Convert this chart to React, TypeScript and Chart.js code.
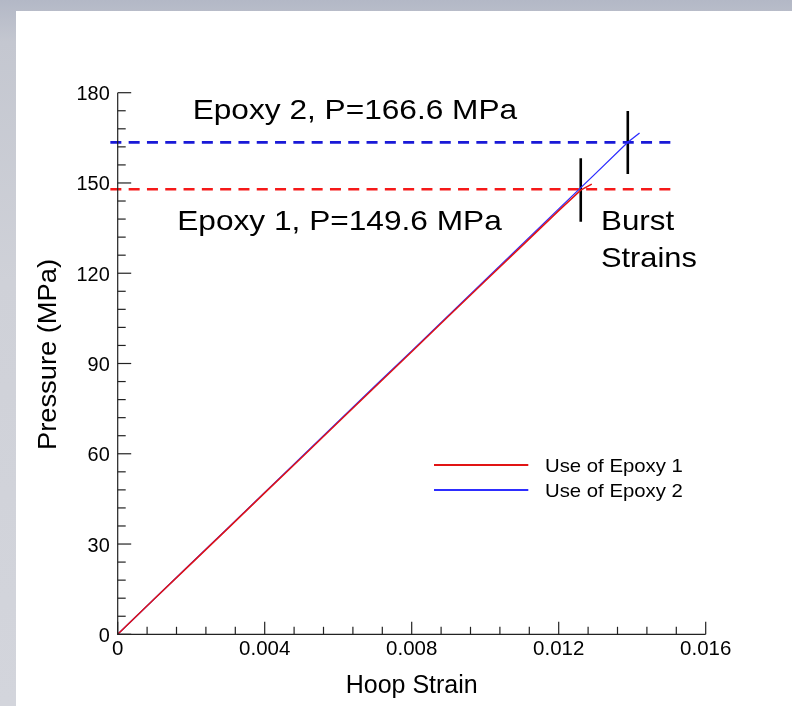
import React, { useEffect, useRef } from 'react';
import { Chart, registerables } from 'chart.js';

Chart.register(...registerables);

// ---- data ----
const seriesLabels = ['Use of Epoxy 1', 'Use of Epoxy 2'];

const strainEpoxy1 = [0, 0.001, 0.002, 0.003, 0.004, 0.005, 0.006, 0.007, 0.008, 0.009, 0.010, 0.011, 0.012, 0.0126, 0.0129];
const pressureEpoxy1 = [0, 11.8, 23.5, 35.2, 47.0, 58.7, 70.5, 82.2, 93.9, 105.7, 117.4, 129.1, 140.8, 147.6, 149.6];

const strainEpoxy2 = [0, 0.001, 0.002, 0.003, 0.004, 0.005, 0.006, 0.007, 0.008, 0.009, 0.010, 0.011, 0.012, 0.013, 0.01388, 0.0142];
const pressureEpoxy2 = [0, 11.8, 23.6, 35.3, 47.1, 58.9, 70.7, 82.5, 94.2, 106.0, 117.8, 129.6, 141.4, 153.1, 163.5, 166.6];

const burstLabels = ['Epoxy 1, P=149.6 MPa', 'Epoxy 2, P=166.6 MPa'];
const burstNote = ['Burst', 'Strains'];
const levelStrain = [-0.0002, 0.01514];
const levelEpoxy1 = [147.9, 147.9];
const levelEpoxy2 = [163.5, 163.5];

const markerStrainEpoxy1 = [0.0126, 0.0126];
const markerPressureEpoxy1 = [137.1, 158.2];
const markerStrainEpoxy2 = [0.01388, 0.01388];
const markerPressureEpoxy2 = [153.0, 173.9];

const xTickLabels = ['0', '0.004', '0.008', '0.012', '0.016'];
const yTickLabels = ['0', '30', '60', '90', '120', '150', '180'];
const xTitle = 'Hoop Strain';
const yTitle = 'Pressure (MPa)';

const pts = (xs: number[], ys: number[]) => xs.map((x, i) => ({ x, y: ys[i] }));

const FONT = '"Liberation Sans", Arial, Helvetica, sans-serif';

function drawText(
  ctx: CanvasRenderingContext2D,
  s: string,
  x: number,
  y: number,
  size: number,
  align: CanvasTextAlign,
  sx = 1,
  rot = 0
) {
  ctx.save();
  ctx.translate(x, y);
  if (rot) ctx.rotate(rot);
  ctx.scale(sx, 1);
  ctx.font = `${size}px ${FONT}`;
  ctx.textAlign = align;
  ctx.textBaseline = 'alphabetic';
  ctx.fillStyle = '#000';
  ctx.fillText(s, 0, 0);
  ctx.restore();
}

const decorPlugin = {
  id: 'decor',
  afterDraw(chart: any) {
    const ctx: CanvasRenderingContext2D = chart.ctx;
    const { left, right, top, bottom } = chart.chartArea;
    const xs = chart.scales.x;
    const ys = chart.scales.y;

    // axes
    ctx.save();
    ctx.strokeStyle = '#222';
    ctx.lineWidth = 1.2;
    ctx.beginPath();
    ctx.moveTo(left, top);
    ctx.lineTo(left, bottom);
    ctx.lineTo(right, bottom);
    ctx.stroke();

    // y ticks (inside)
    ys.ticks.forEach((t: any) => {
      const v = t.value;
      const p = ys.getPixelForValue(v);
      const idx = Math.round(v / 6);
      const major = idx % 5 === 0;
      ctx.beginPath();
      ctx.moveTo(left, p);
      ctx.lineTo(left + (major ? 13.5 : 8), p);
      ctx.stroke();
      if (major) {
        drawText(ctx, yTickLabels[idx / 5], left - 8, p + 7.5, 19.5, 'right', 1.02);
      }
    });

    // x ticks (inside)
    xs.ticks.forEach((t: any) => {
      const v = t.value;
      const p = xs.getPixelForValue(v);
      const idx = Math.round(v / 0.0008);
      const major = idx % 5 === 0;
      ctx.beginPath();
      ctx.moveTo(p, bottom);
      ctx.lineTo(p, bottom - (major ? 12.5 : 7.5));
      ctx.stroke();
      if (major) {
        drawText(ctx, xTickLabels[idx / 5], p, bottom + 21, 19.5, 'center', 1.05);
      }
    });
    ctx.restore();

    // axis titles
    drawText(ctx, xTitle, (left + right) / 2, bottom + 59, 25, 'center', 1.0);
    drawText(ctx, yTitle, left - 62, (top + bottom) / 2 - 9, 26, 'center', 1.05, -Math.PI / 2);

    // annotations
    drawText(ctx, burstLabels[1], xs.getPixelForValue(0.00204), ys.getPixelForValue(171.2), 28, 'left', 1.13);
    drawText(ctx, burstLabels[0], xs.getPixelForValue(0.00162), ys.getPixelForValue(134.4), 28, 'left', 1.13);
    drawText(ctx, burstNote[0], xs.getPixelForValue(0.01315), ys.getPixelForValue(134.4), 28, 'left', 1.12);
    drawText(ctx, burstNote[1], xs.getPixelForValue(0.01315), ys.getPixelForValue(122.2), 28, 'left', 1.1);

    // legend
    const ds = chart.data.datasets;
    [0, 1].forEach((i) => {
      const y = top + 372.3 + i * 25;
      ctx.save();
      ctx.strokeStyle = ds[i].borderColor;
      ctx.lineWidth = 2;
      ctx.beginPath();
      ctx.moveTo(left + 316.3, y);
      ctx.lineTo(left + 410.6, y);
      ctx.stroke();
      ctx.restore();
      drawText(ctx, ds[i].label, left + 427.3, y + 6.7, 19, 'left', 1.07);
    });
  },
};

export default function App() {
  const ref = useRef<HTMLCanvasElement | null>(null);

  useEffect(() => {
    const canvas = ref.current;
    if (!canvas) return;
    const chart = new Chart(canvas, {
      type: 'line',
      data: {
        datasets: [
          {
            label: seriesLabels[0],
            data: pts(strainEpoxy1, pressureEpoxy1),
            borderColor: 'rgb(225,20,20)',
            borderWidth: 1.5,
            pointRadius: 0,
            tension: 0,
          },
          {
            label: seriesLabels[1],
            data: pts(strainEpoxy2, pressureEpoxy2),
            borderColor: 'rgb(45,45,255)',
            borderWidth: 1.3,
            pointRadius: 0,
            tension: 0,
          },
          {
            label: 'level1',
            data: pts(levelStrain, levelEpoxy1),
            borderColor: 'rgb(245,25,25)',
            borderWidth: 2.6,
            borderDash: [11, 7.3],
            pointRadius: 0,
            clip: false as any,
          },
          {
            label: 'level2',
            data: pts(levelStrain, levelEpoxy2),
            borderColor: 'rgb(25,25,215)',
            borderWidth: 2.6,
            borderDash: [11, 7.3],
            pointRadius: 0,
            clip: false as any,
          },
          {
            label: 'burst1',
            data: pts(markerStrainEpoxy1, markerPressureEpoxy1),
            borderColor: '#000',
            borderWidth: 2.6,
            pointRadius: 0,
          },
          {
            label: 'burst2',
            data: pts(markerStrainEpoxy2, markerPressureEpoxy2),
            borderColor: '#000',
            borderWidth: 2.6,
            pointRadius: 0,
          },
        ],
      },
      options: {
        animation: false,
        responsive: false,
        devicePixelRatio: 1,
        parsing: true,
        layout: { padding: { left: 101.7, right: 86.3, top: 81.7, bottom: 71.7 } },
        plugins: { legend: { display: false }, tooltip: { enabled: false } },
        scales: {
          x: {
            type: 'linear',
            min: 0,
            max: 0.016,
            ticks: { display: false, stepSize: 0.0008 },
            grid: { display: false, drawTicks: false },
            border: { display: false },
          },
          y: {
            type: 'linear',
            min: 0,
            max: 180,
            ticks: { display: false, stepSize: 6 },
            grid: { display: false, drawTicks: false },
            border: { display: false },
          },
        },
      },
      plugins: [decorPlugin],
    });
    return () => chart.destroy();
  }, []);

  return (
    <div
      style={{
        position: 'fixed',
        left: 0,
        top: 0,
        width: 792,
        height: 706,
        overflow: 'hidden',
        background:
          'linear-gradient(180deg, #b3b8c6 0%, #c4c7d0 6%, #cfd1d8 40%, #d3d5dc 100%)',
      }}
    >
      <div
        style={{
          position: 'absolute',
          left: 16,
          top: 11,
          width: 776,
          height: 695,
          background: '#fff',
        }}
      >
        <canvas ref={ref} width={776} height={695} style={{ display: 'block', width: 776, height: 695 }} />
      </div>
    </div>
  );
}
